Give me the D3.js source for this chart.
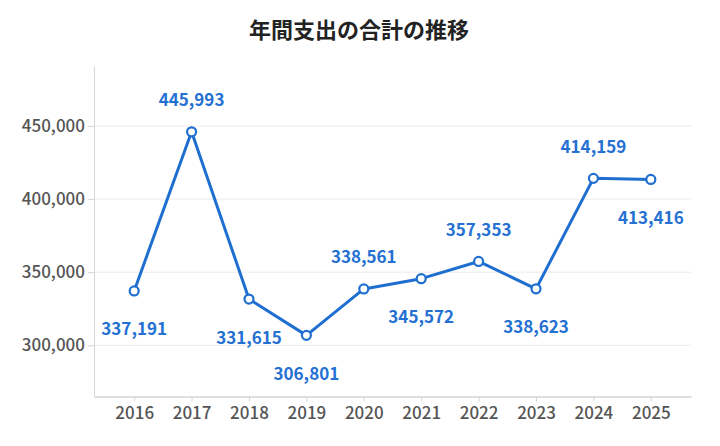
<!DOCTYPE html>
<html><head><meta charset="utf-8">
<script src="https://cdn.jsdelivr.net/npm/d3@7"></script>
<style>
html,body{margin:0;padding:0;background:#fff;}
svg{display:block;font-family:"Noto Sans CJK JP","Noto Sans",sans-serif;}
</style></head>
<body>
<svg id="chart" width="720" height="446"></svg>
<script>
const title = "年間支出の合計の推移";
const years = ["2016","2017","2018","2019","2020","2021","2022","2023","2024","2025"];
const totals = [337191, 445993, 331615, 306801, 338561, 345572, 357353, 338623, 414159, 413416];
const labelSide = ["below","above","below","below","above","below","above","below","above","below"];
const yTicks = [300000, 350000, 400000, 450000];
const yDomain = [265000, 491000];

const svg = d3.select("#chart");
const mLeft = 94, mRight = 691, mTop = 66, mBottom = 396.5;

const x = d3.scalePoint().domain(years).range([mLeft, mRight]).padding(0.7);
const y = d3.scaleLinear().domain(yDomain).range([mBottom, mTop]);
const fmt = d3.format(",");

svg.append("text").attr("x", 359).attr("y", 28).attr("text-anchor","middle")
  .attr("dominant-baseline","central").attr("font-size", 22).attr("font-weight", 700)
  .attr("fill", "#222").text(title);

// gridlines
svg.append("g").selectAll("line").data(yTicks).join("line")
  .attr("x1", mLeft).attr("x2", mRight).attr("y1", d => y(d)).attr("y2", d => y(d))
  .attr("stroke", "#ebebeb").attr("stroke-width", 1);

// y axis
const yAxis = svg.append("g").attr("transform", `translate(${mLeft},0)`)
  .call(d3.axisLeft(y).tickValues(yTicks).tickFormat(fmt).tickSize(6).tickSizeOuter(0).tickPadding(3));
yAxis.select(".domain").attr("stroke", "#d6d6d6");
yAxis.selectAll(".tick line").attr("stroke", "#d6d6d6");
yAxis.selectAll(".tick text").attr("font-size", 17).attr("font-weight", 500).attr("fill", "#555")
  .attr("font-family", '"Noto Sans CJK JP","Noto Sans",sans-serif');

// x axis
const xAxis = svg.append("g").attr("transform", `translate(0,${mBottom})`)
  .call(d3.axisBottom(x).tickSize(5).tickSizeOuter(0).tickPadding(5));
xAxis.select(".domain").attr("stroke", "#d6d6d6").attr("stroke-width", 1.5);
xAxis.selectAll(".tick line").attr("stroke", "#d6d6d6");
xAxis.selectAll(".tick text").attr("font-size", 17).attr("font-weight", 500).attr("fill", "#555")
  .attr("font-family", '"Noto Sans CJK JP","Noto Sans",sans-serif');

const data = years.map((yr, i) => ({yr, v: totals[i], side: labelSide[i]}));
const color = "#1f6fd1";

svg.append("path").datum(data)
  .attr("fill", "none").attr("stroke", color).attr("stroke-width", 3)
  .attr("stroke-linejoin", "round")
  .attr("d", d3.line().x(d => x(d.yr)).y(d => y(d.v)));

svg.append("g").selectAll("circle").data(data).join("circle")
  .attr("cx", d => x(d.yr)).attr("cy", d => y(d.v)).attr("r", 4.5)
  .attr("fill", "#fff").attr("stroke", color).attr("stroke-width", 2.2);

svg.append("g").selectAll("text").data(data).join("text")
  .attr("x", d => x(d.yr))
  .attr("y", d => y(d.v) + (d.side === "above" ? -33 : 37))
  .attr("text-anchor", "middle").attr("dominant-baseline", "central")
  .attr("font-size", 17).attr("font-weight", 700).attr("fill", "#2470d3")
  .text(d => fmt(d.v));
</script>
</body></html>
